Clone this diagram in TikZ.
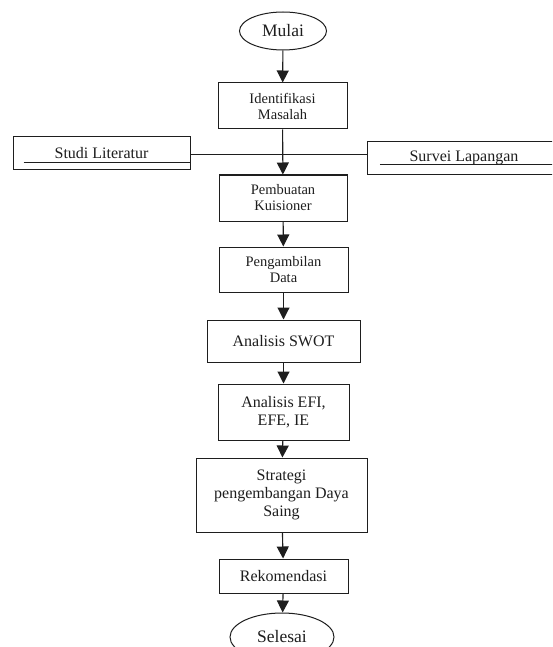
\documentclass[tikz,border=0pt]{standalone}
\usepackage{fontspec}
\setmainfont{Liberation Serif}
\usetikzlibrary{shapes.geometric,arrows.meta}
\definecolor{ink}{HTML}{1E1E1E}
\tikzset{
  box/.style={draw=ink, line width=1pt, rectangle, inner sep=2pt, align=center, text=ink},
  oval/.style={draw=ink, line width=1pt, ellipse, inner sep=0pt, text=ink, font=\fontsize{17.5}{19}\selectfont},
  small/.style={font=\fontsize{14.5}{16}\selectfont},
  big/.style={font=\fontsize{16}{18.3}\selectfont},
  flow/.style={draw=ink, line width=1.1pt, -{Triangle[length=12pt,width=12pt]}},
  plain/.style={draw=ink, line width=1pt},
}
\begin{document}
\begin{tikzpicture}[x=1pt,y=-1pt]
\useasboundingbox (0,0) rectangle (552,647);
\clip (0,0) rectangle (552,647);
\fill[white] (0,0) rectangle (552,647);

\node[oval, minimum width=87pt, minimum height=38pt] (mulai) at (283,31) {Mulai};
\node[box, small, minimum width=129pt, minimum height=46pt] (ident) at (282.5,106) {Identifikasi\\Masalah};
\node[box, small, minimum width=128pt, minimum height=46pt] (buat) at (283,198) {Pembuatan\\Kuisioner};
\node[box, small, minimum width=129pt, minimum height=45pt] (ambil) at (283.5,269.5) {Pengambilan\\Data};
\node[box, big, minimum width=153pt, minimum height=42pt] (swot) at (283.5,341) {Analisis SWOT};
\node[box, big, minimum width=131pt, minimum height=56pt] (efi) at (283.5,412) {Analisis EFI,\\EFE, IE};
\node[box, big, minimum width=171pt, minimum height=74pt] (strat) at (281.5,495) {Strategi\\pengembangan Daya\\Saing};
\node[box, big, minimum width=129pt, minimum height=34pt] (rek) at (283.5,576) {Rekomendasi};
\node[oval, minimum width=104pt, minimum height=48pt] (selesai) at (282,637) {Selesai};

\node[box, big, minimum width=177pt, minimum height=33pt] (studi) at (101.5,153.5) {Studi Literatur};
\node[rectangle, big, text=ink, minimum width=192pt, minimum height=32pt] (survei) at (464,158) {Survei Lapangan};
\draw[plain] (survei.north east) -- (survei.north west) -- (survei.south west) -- (survei.south east);

\draw[plain, line width=0.8pt] ([shift={(11pt,8pt)}]studi.south west) -- ([yshift=8pt]studi.south east);
\draw[plain, line width=0.8pt] ([shift={(12pt,10pt)}]survei.south west) -- ([yshift=10pt]survei.south east);

\draw[plain] ([yshift=-1.5pt]studi.east) -- ([yshift=-1.5pt]studi.east -| survei.west);

\draw[flow] (mulai) -- (ident);
\draw[flow] (ident) -- (buat);
\draw[flow] (buat) -- (ambil);
\draw[flow] (ambil) -- (swot);
\draw[flow] (swot) -- (efi);
\draw[flow] (efi) -- (strat);
\draw[flow] (strat) -- (rek);
\draw[flow] (rek) -- (selesai);
\end{tikzpicture}
\end{document}
